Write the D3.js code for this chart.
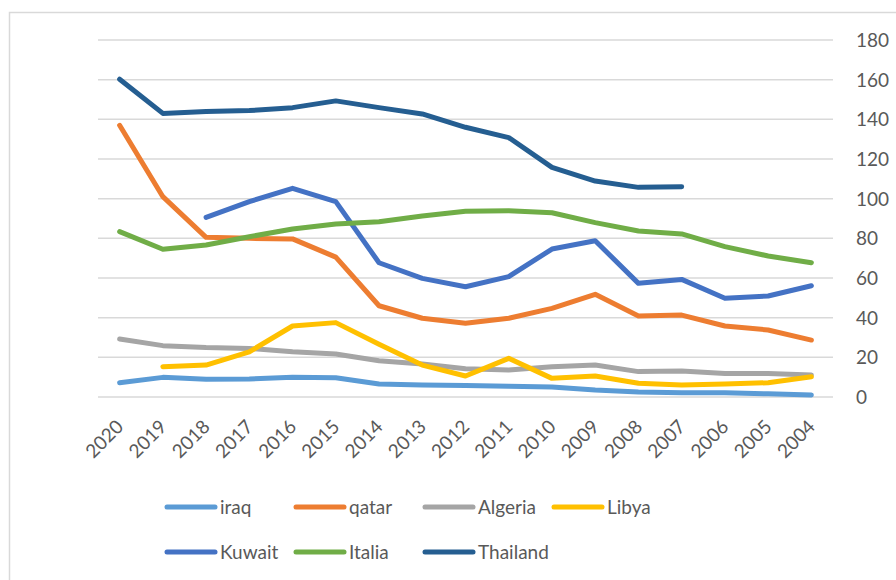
<!DOCTYPE html>
<html>
<head>
<meta charset="utf-8">
<script src="https://cdn.jsdelivr.net/npm/d3@7"></script>
<style>
  html, body { margin: 0; padding: 0; background: #fff; }
  svg text { font-family: Lato, "Open Sans", sans-serif; fill: #595959; }
</style>
</head>
<body>
<div id="chart"></div>
<script>
(function () {
    'use strict';

    // categories (x axis runs from 2020 down to 2004)
    var years = ['2020', '2019', '2018', '2017', '2016', '2015', '2014', '2013', '2012',
                 '2011', '2010', '2009', '2008', '2007', '2006', '2005', '2004'];
    var yTicks = [0, 20, 40, 60, 80, 100, 120, 140, 160, 180];

    // series values (null = no value)
    var iraq     = [7.2, 9.9, 8.9, 9.1, 9.9, 9.7, 6.6, 6.1, 5.8, 5.4, 5.1, 3.5, 2.5, 2.2, 2.2, 1.6, 1.0];
    var qatar    = [137, 101, 80.5, 80, 79.7, 70.5, 46, 39.7, 37.2, 39.7, 44.7, 51.8, 40.8, 41.3, 35.8, 33.8, 28.7];
    var algeria  = [29.2, 25.9, 24.9, 24.5, 22.8, 21.7, 18.3, 16.6, 14.2, 13.6, 15.3, 16.1, 12.8, 13.1, 11.9, 11.9, 11.1];
    var libya    = [null, 15.3, 16.1, 22.8, 35.8, 37.5, 26.6, 16.1, 10.6, 19.5, 9.4, 10.6, 6.9, 6.1, 6.6, 7.2, 10.2];
    var kuwait   = [null, null, 90.6, 98.5, 105.2, 98.5, 67.7, 59.8, 55.6, 60.7, 74.6, 78.8, 57.3, 59.3, 49.8, 50.9, 56.1];
    var italia   = [83.4, 74.5, 76.6, 80.8, 84.7, 87.2, 88.4, 91.3, 93.7, 93.9, 92.9, 87.9, 83.7, 82.2, 75.8, 71.1, 67.7];
    var thailand = [160.2, 143, 143.9, 144.4, 145.9, 149.3, 145.9, 142.7, 136, 130.8, 115.8, 108.9, 105.7, 106, null, null, null];

    var seriesNames  = ['iraq', 'qatar', 'Algeria', 'Libya', 'Kuwait', 'Italia', 'Thailand'];
    var seriesValues = [iraq, qatar, algeria, libya, kuwait, italia, thailand];
    var seriesColors = ['#5B9BD5', '#ED7D31', '#A5A5A5', '#FFC000', '#4472C4', '#70AD47', '#255E91'];

    var w = 896;
    var h = 580;

    var svg = d3.select('#chart')
                .append('svg')
                .attr('width', w)
                .attr('height', h);

    // chart area border (right and bottom edges fall outside the picture)
    svg.append('rect')
       .attr('x', 9.5).attr('y', 12.5)
       .attr('width', w + 20).attr('height', h + 20)
       .attr('fill', 'none')
       .attr('stroke', '#D9D9D9')
       .attr('stroke-width', 1.5);

    var x = d3.scalePoint().domain(years).range([98, 833]).padding(0.5);
    var y = d3.scaleLinear().domain([0, 180]).range([397, 40]);

    // gridlines
    svg.append('g')
       .selectAll('line')
       .data(yTicks)
       .enter()
       .append('line')
       .attr('x1', 98).attr('x2', 833)
       .attr('y1', function (d) { return y(d); })
       .attr('y2', function (d) { return y(d); })
       .attr('stroke', '#D9D9D9')
       .attr('stroke-width', 1.5);

    // y labels on the right
    svg.append('g')
       .selectAll('text')
       .data(yTicks)
       .enter()
       .append('text')
       .attr('x', 856)
       .attr('y', function (d) { return y(d) + 7; })
       .attr('font-size', 19)
       .text(function (d) { return d; });

    // x labels, rotated
    svg.append('g')
       .selectAll('text')
       .data(years)
       .enter()
       .append('text')
       .attr('transform', function (d) { return 'translate(' + (x(d) + 5) + ',428) rotate(-45)'; })
       .attr('text-anchor', 'end')
       .attr('font-size', 19)
       .text(function (d) { return d; });

    var line = d3.line()
                 .defined(function (d) { return d != null; })
                 .x(function (d, i) { return x(years[i]); })
                 .y(function (d) { return y(d); });

    svg.append('g')
       .selectAll('path')
       .data(seriesValues)
       .enter()
       .append('path')
       .attr('d', line)
       .attr('fill', 'none')
       .attr('stroke', function (d, i) { return seriesColors[i]; })
       .attr('stroke-width', 5)
       .attr('stroke-linecap', 'round')
       .attr('stroke-linejoin', 'round');

    // legend, two rows of four
    var legend = svg.append('g')
                    .selectAll('g')
                    .data(seriesNames)
                    .enter()
                    .append('g')
                    .attr('transform', function (d, i) {
                        return 'translate(' + (167 + (i % 4) * 129) + ',' + (507 + Math.floor(i / 4) * 45) + ')';
                    });

    legend.append('line')
          .attr('x1', 0).attr('x2', 48)
          .attr('y1', 0).attr('y2', 0)
          .attr('stroke', function (d, i) { return seriesColors[i]; })
          .attr('stroke-width', 5)
          .attr('stroke-linecap', 'round');

    legend.append('text')
          .attr('x', 53)
          .attr('y', 7)
          .attr('font-size', 19)
          .text(function (d) { return d; });
})();
</script>
</body>
</html>
